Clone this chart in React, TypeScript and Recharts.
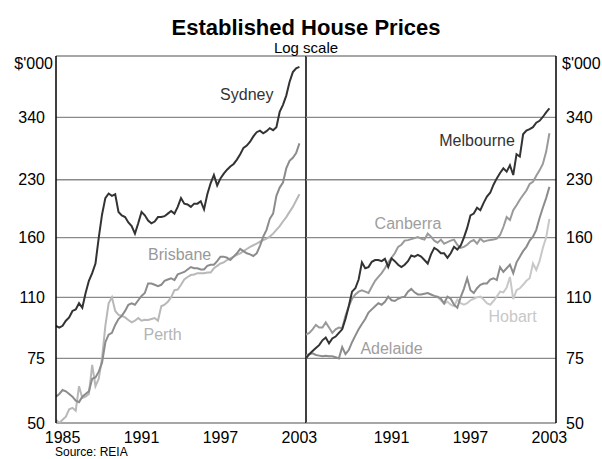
import React from "react";
import {
  LineChart,
  Line,
  XAxis,
  YAxis,
  CartesianGrid,
  ReferenceLine,
  ReferenceDot,
} from "recharts";

// quarterly observations, 1985 Q1 to 2003 Q3
const quarters = Array.from({ length: 75 }, (_, i) => 1985 + i / 4);

const yearTicks = [
  1986, 1987, 1988, 1989, 1990, 1991, 1992, 1993, 1994, 1995, 1996, 1997,
  1998, 1999, 2000, 2001, 2002, 2003,
];
const leftYearLabels = [1985.5, 1991.5, 1997.5, 2003.5];
const rightYearLabels = [1991.5, 1997.5, 2003.5];
const priceTicks = [50, 75, 110, 160, 230, 340, 500];

// $'000
const sydney = [
  92, 91, 92, 95, 97, 101, 102, 106, 103, 113, 122, 128, 136, 160, 185, 205,
  211, 208, 210, 188, 184, 182, 176, 172, 164, 175, 188, 184, 178, 175, 177, 182,
  182, 183, 186, 189, 186, 194, 205, 198, 197, 194, 198, 198, 201, 191, 210, 225,
  237, 222, 232, 239, 245, 250, 254, 261, 270, 281, 285, 292, 302, 310, 313, 308,
  312, 318, 314, 320, 352, 368, 390, 425, 452, 463, 467,
];
const brisbane = [
  59, 60, 61.5, 61, 60, 59, 57.5, 57, 59, 60, 61, 66, 66.5, 69, 73, 83,
  87, 88, 92.5, 96, 98, 101, 105, 106, 105, 108, 111, 113, 120, 120, 119, 118,
  119, 122, 123, 124, 122.6, 127, 128, 129, 131, 133, 132, 132, 131, 131, 134, 135,
  135, 138, 142, 142, 141, 139, 142, 145, 149, 147, 145, 144, 142.6, 145, 152, 161,
  168, 180, 186, 208, 219, 226, 247, 259, 264, 272, 289,
];
const perth = [
  51, 50, 51, 52, 54.5, 55, 54, 63, 58.5, 59, 60, 72, 63, 66, 75, 92,
  106, 110, 101, 98.5, 98, 97, 95.4, 94, 95, 96.6, 95, 95.5, 95.4, 96, 96.6, 95,
  104, 105, 107, 110, 115, 115.5, 119, 123, 125, 126.5, 127, 128, 128, 128, 128.5, 128.5,
  132, 134, 136, 137, 139, 140.5, 142, 143.5, 145, 147, 149, 151, 152.5, 154, 156, 157.5,
  159, 161, 164, 168, 172, 177, 182, 188, 194, 202, 210,
];
const melbourne = [
  75, 77, 78.5, 80, 81.5, 84, 85.5, 82.4, 85, 86, 88, 90, 96, 104, 114, 116.4,
  123, 137, 132, 133, 137.5, 139, 139, 138, 140, 133, 140.5, 138, 135, 133, 135, 138,
  143, 142, 143.5, 142, 139, 136, 144, 150, 148, 145, 145, 141, 145, 151, 148.5, 152,
  160, 170, 184, 186, 193, 190, 199, 207, 212, 223, 232, 240, 247, 242, 252, 237,
  270, 266, 306, 313, 316, 320, 329, 333, 341, 351, 360,
];
const canberra = [
  87, 88, 90, 92.5, 91, 91, 94, 91, 88, 90, 91, 90.6, 98, 104, 109, 112,
  114, 115, 114, 113, 117.6, 122, 125, 128, 132, 137, 141, 145, 151, 153, 157, 157.5,
  158.5, 159.5, 160.6, 159, 158, 164, 161, 157, 155, 158, 154, 155.5, 157, 158, 153, 150,
  151, 153, 156, 157.6, 154, 159, 156, 157, 157.6, 158, 159, 162.6, 171, 182, 178.7, 190,
  196, 203, 209, 215, 224, 227, 236, 244, 254, 274, 308,
];
const adelaide = [
  76.5, 77, 77.4, 76.6, 76.3, 76, 76.2, 76, 76, 75.5, 75, 80.5, 77, 79, 83, 86.5,
  90, 93, 96, 100, 102, 104, 106, 105, 107, 110.5, 108, 107.5, 109, 110, 110.5, 114,
  116, 113.5, 112, 112, 112.5, 113, 112, 111, 110.5, 109, 106, 110.5, 109, 105, 103, 110,
  116, 124, 115, 113, 116.5, 119, 120, 120, 123, 124, 122.6, 133, 129, 132, 135, 128,
  137, 142, 147, 151, 157, 161, 168, 181, 193, 205, 220,
];
const hobart = [
  ...Array(40).fill(null),
  110, 108, 105.5, 107, 105, 104, 108.5, 106, 105, 106, 108, 109, 110, 110.5, 108.5, 106,
  105, 107.5, 110.5, 114, 113.5, 117, 125, 108.7, 115, 116.4, 119, 122, 124, 136, 130.6, 138,
  150, 160, 180,
];

const leftData = quarters.map((year, i) => ({
  year,
  sydney: sydney[i],
  brisbane: brisbane[i],
  perth: perth[i],
}));
const rightData = quarters.map((year, i) => ({
  year,
  melbourne: melbourne[i],
  canberra: canberra[i],
  adelaide: adelaide[i],
  hobart: hobart[i],
}));

const DARK = "#333333";
const MID = "#8c8c8c";
const MID2 = "#9a9a9a";
const LIGHT = "#b8b8b8";
const LIGHTER = "#c8c8c8";

const leftSeries = [
  { key: "perth", color: LIGHT },
  { key: "brisbane", color: MID },
  { key: "sydney", color: DARK },
];
const rightSeries = [
  { key: "hobart", color: LIGHTER },
  { key: "canberra", color: MID2 },
  { key: "adelaide", color: MID },
  { key: "melbourne", color: DARK },
];

// series name placed at (year, price)
const leftNames = [
  { text: "Sydney", year: 1999.5, price: 394, color: DARK },
  { text: "Brisbane", year: 1994.4, price: 144, color: "#999999" },
  { text: "Perth", year: 1993.1, price: 87, color: "#b4b4b4" },
];
const rightNames = [
  { text: "Melbourne", year: 1998.0, price: 295, color: DARK },
  { text: "Canberra", year: 1992.75, price: 175, color: "#9e9e9e" },
  { text: "Adelaide", year: 1991.5, price: 80, color: "#9e9e9e" },
  { text: "Hobart", year: 2000.7, price: 97.5, color: "#c8c8c8" },
];

const W = 602;
const H = 459;
const FONT = "'Liberation Sans', Arial, Helvetica, sans-serif";

function PriceTick(props: any) {
  const { x, y, payload, side } = props;
  const unit = payload.value === 500;
  const dx = unit ? (side === "left" ? 8 : -4) : 0;
  return (
    <text
      x={x + dx}
      y={y + (unit ? 7 : 0)}
      dy="0.355em"
      textAnchor={side === "left" ? "end" : "start"}
      fontSize={16}
      fill="#000"
    >
      {unit ? "$'000" : payload.value}
    </text>
  );
}

function Panel({ side, data, series, names, yearLabels }: any) {
  const left = side === "left";
  return (
    <div style={{ position: "absolute", left: 0, top: 0 }}>
      <LineChart
        width={W}
        height={H}
        data={data}
        margin={
          left
            ? { top: 56, right: 296, bottom: 6, left: 0 }
            : { top: 56, right: 0, bottom: 6, left: 306 }
        }
      >
        <CartesianGrid vertical={false} stroke="#8a8a8a" strokeWidth={1.3} />
        <XAxis
          xAxisId="years"
          dataKey="year"
          type="number"
          domain={[1985, 2004]}
          allowDataOverflow
          ticks={yearTicks}
          interval={0}
          height={0}
          mirror
          tick={false}
          tickSize={5}
          tickLine={{ stroke: "#000", strokeWidth: 1 }}
          axisLine={{ stroke: "#000", strokeWidth: 1.5 }}
        />
        <XAxis
          xAxisId="labels"
          dataKey="year"
          type="number"
          domain={[1985, 2004]}
          allowDataOverflow
          ticks={yearLabels}
          interval={0}
          height={30}
          axisLine={false}
          tickLine={false}
          tickSize={0}
          tickMargin={9}
          tickFormatter={(v: number) => String(Math.floor(v))}
          tick={{ fontSize: 16, fill: "#000" }}
        />
        <YAxis
          orientation={left ? "left" : "right"}
          scale="log"
          domain={[50, 500]}
          allowDataOverflow
          ticks={priceTicks}
          interval={0}
          width={left ? 56 : 46}
          tickLine={false}
          tickSize={0}
          tickMargin={left ? 11 : 10}
          axisLine={{ stroke: "#000", strokeWidth: 1.5 }}
          tick={<PriceTick side={side} />}
        />
        {left && (
          <ReferenceLine
            xAxisId="years"
            x={2004}
            stroke="#000"
            strokeWidth={1.5}
          />
        )}
        {series.map((s: any) => (
          <Line
            key={s.key}
            xAxisId="years"
            dataKey={s.key}
            type="linear"
            stroke={s.color}
            strokeWidth={2}
            dot={false}
            activeDot={false}
            isAnimationActive={false}
          />
        ))}
        {names.map((n: any) => (
          <ReferenceDot
            key={n.text}
            xAxisId="years"
            x={n.year}
            y={n.price}
            r={0}
            shape={(p: any) => (
              <text
                x={p.cx}
                y={p.cy}
                dy="0.355em"
                textAnchor="middle"
                fontSize={16}
                fill={n.color}
              >
                {n.text}
              </text>
            )}
          />
        ))}
      </LineChart>
    </div>
  );
}

export default function App() {
  return (
    <div
      style={{
        position: "absolute",
        left: 0,
        top: 0,
        width: W,
        height: H,
        background: "#fff",
        fontFamily: FONT,
        overflow: "hidden",
      }}
    >
      <Panel
        side="left"
        data={leftData}
        series={leftSeries}
        names={leftNames}
        yearLabels={leftYearLabels}
      />
      <Panel
        side="right"
        data={rightData}
        series={rightSeries}
        names={rightNames}
        yearLabels={rightYearLabels}
      />
      <svg
        width={W}
        height={H}
        style={{ position: "absolute", left: 0, top: 0, pointerEvents: "none" }}
      >
        <text x={306} y={35} textAnchor="middle" fontSize={22} fontWeight="bold">
          Established House Prices
        </text>
        <text x={306} y={53} textAnchor="middle" fontSize={15}>
          Log scale
        </text>
        <text x={55} y={456} fontSize={12}>
          Source: REIA
        </text>
      </svg>
    </div>
  );
}
